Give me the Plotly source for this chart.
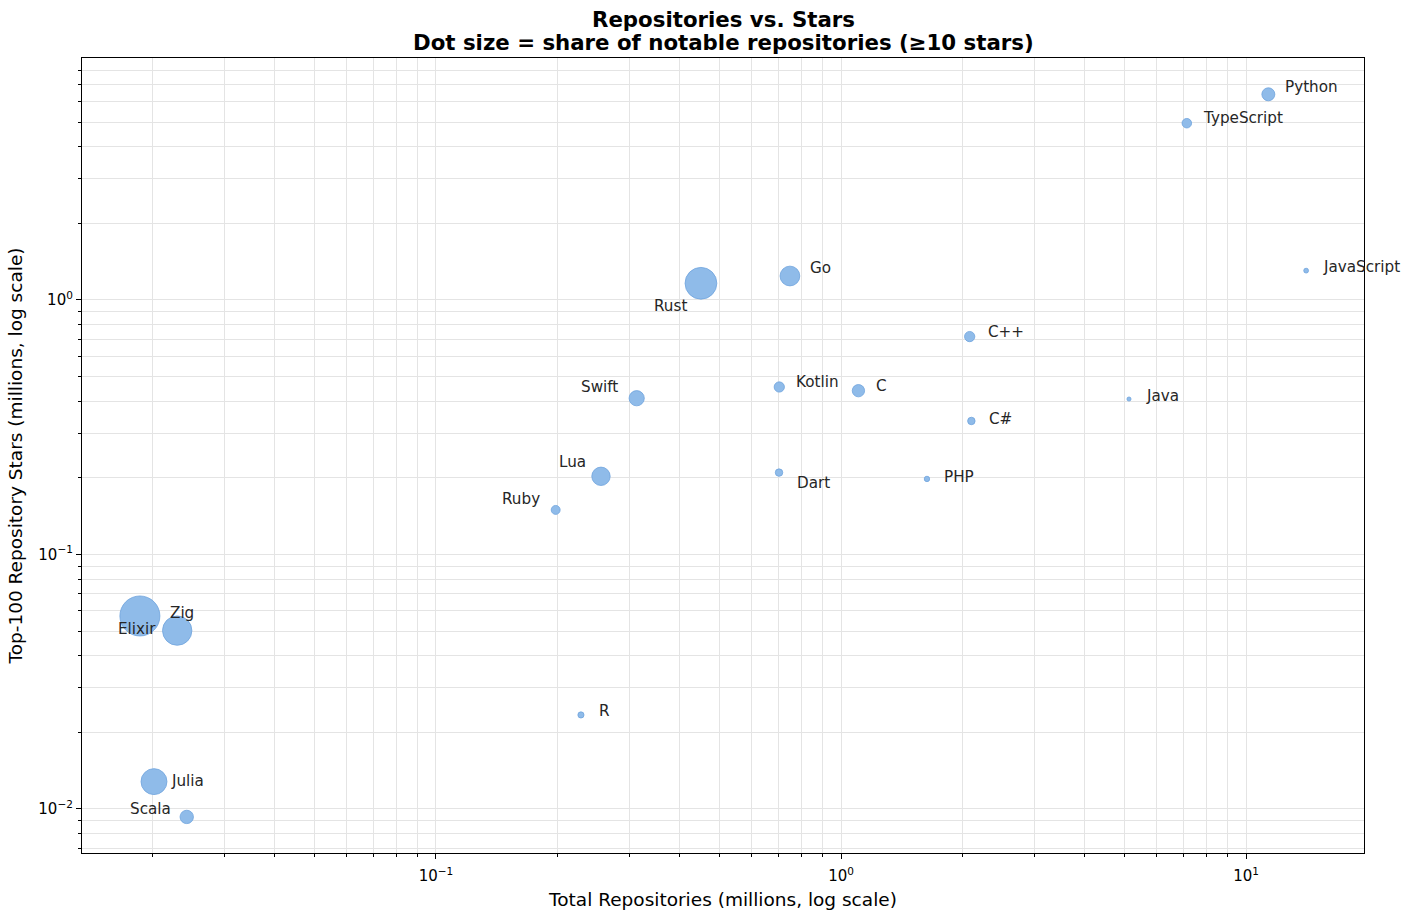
import numpy as np
import plotly.graph_objects as go

# language stats (millions)
languages = ["Python", "TypeScript", "JavaScript", "Go", "Rust", "C++", "Kotlin", "C",
             "Swift", "Java", "C#", "Lua", "Dart", "PHP", "Ruby", "Zig", "Elixir",
             "R", "Julia", "Scala"]
total_repos = [11.35, 7.14, 14.07, 0.748, 0.451, 2.078, 0.704, 1.104,
               0.313, 5.14, 2.098, 0.2555, 0.703, 1.630, 0.1975, 0.01858, 0.02297,
               0.228, 0.02013, 0.02425]
top100_stars = [6.43, 4.95, 1.304, 1.242, 1.163, 0.718, 0.455, 0.440,
                0.411, 0.408, 0.3346, 0.2028, 0.2097, 0.198, 0.1496, 0.0573, 0.0502,
                0.0234, 0.0128, 0.0093]
# share of notable repos (>=10 stars), percent
notable_share = [1.6, 0.86, 0.22, 3.7, 9.6, 1.0, 1.0, 1.44,
                 2.2, 0.16, 0.53, 3.2, 0.53, 0.28, 0.76, 15.2, 8.2,
                 0.36, 6.4, 1.7]

# label placement (dx, dy) in px, dy up
label_offsets = {
    "Python": (16, 7), "TypeScript": (15, 5), "JavaScript": (16, 4), "Go": (19, 8),
    "Rust": (-13, -23), "C++": (17, 5), "Kotlin": (16, 5), "C": (17, 5),
    "Swift": (-18, 11), "Java": (16, 3), "C#": (17, 2), "Lua": (-14, 14),
    "Dart": (17, -10), "PHP": (16, 2), "Ruby": (-15, 11), "Zig": (29, 3),
    "Elixir": (-20, 2), "R": (17, 4), "Julia": (16, 1), "Scala": (-15, 8),
}

FONT = "DejaVu Sans"
GRID = "#e4e4e4"

fig = go.Figure()
fig.add_trace(go.Scatter(
    x=total_repos, y=top100_stars, mode="markers", text=languages,
    marker=dict(size=notable_share, sizemode="area",
                sizeref=2 * max(notable_share) / 40 ** 2,
                color="#8fbbe9", opacity=1,
                line=dict(color="#6ea3dd", width=0.8)),
    hoverinfo="text", showlegend=False,
))

for name, xv, yv in zip(languages, total_repos, top100_stars):
    dx, dy = label_offsets[name]
    fig.add_annotation(
        x=np.log10(xv), y=np.log10(yv), text=name, showarrow=False,
        xanchor="left" if dx > 0 else "right", yanchor="middle",
        xshift=dx - (1 if dx > 0 else -1), yshift=dy,
        font=dict(family=FONT, size=15.2, color="#262626"),
    )

# figure title, two lines
fig.add_annotation(text="<b>Repositories vs. Stars</b>", xref="paper", yref="paper",
                   x=0.5, y=1 + 39 / 795, showarrow=False, yanchor="middle",
                   font=dict(family=FONT, size=21.3, color="black"))
fig.add_annotation(text="<b>Dot size = share of notable repositories (≥10 stars)</b>",
                   xref="paper", yref="paper", x=0.5, y=1 + 16 / 795,
                   showarrow=False, yanchor="middle",
                   font=dict(family=FONT, size=21.3, color="black"))


def minor_vals(lo, hi):
    return [m * 10.0 ** e for e in range(lo, hi) for m in range(2, 10)]


axis_common = dict(
    type="log", showline=True, linecolor="black", linewidth=1.2, mirror=True,
    ticks="outside", ticklen=5, tickwidth=1, tickcolor="black",
    showgrid=True, gridcolor=GRID, gridwidth=0.8, zeroline=False,
    tickfont=dict(family=FONT, size=15, color="black"),
)

fig.update_xaxes(
    **axis_common,
    range=[np.log10(0.01337), np.log10(19.55)],
    tickmode="array", tickvals=[0.1, 1, 10],
    ticktext=["10<sup>−1</sup>", "10<sup>0</sup>", "10<sup>1</sup>"],
    ticklabelstandoff=4,
    minor=dict(tickmode="array", tickvals=minor_vals(-2, 2), ticks="outside",
               ticklen=3, tickcolor="black", showgrid=True, gridcolor=GRID, gridwidth=0.8),
    title=dict(text="Total Repositories (millions, log scale)", standoff=8,
               font=dict(family=FONT, size=18.5, color="black")),
)
fig.update_yaxes(
    **axis_common,
    range=[np.log10(0.00671), np.log10(8.93)],
    tickmode="array", tickvals=[0.01, 0.1, 1],
    ticktext=["10<sup>−2</sup>", "10<sup>−1</sup>", "10<sup>0</sup>"],
    minor=dict(tickmode="array", tickvals=minor_vals(-3, 1), ticks="outside",
               ticklen=3, tickcolor="black", showgrid=True, gridcolor=GRID, gridwidth=0.8),
    title=dict(text="Top-100 Repository Stars (millions, log scale)", standoff=10,
               font=dict(family=FONT, size=18.5, color="black")),
)

fig.update_layout(
    width=1409, height=918,
    margin=dict(l=82, r=45, t=58, b=65, autoexpand=False),
    plot_bgcolor="white", paper_bgcolor="white",
    font=dict(family=FONT),
)

# page body has a default 8px margin; drop it so the figure sits at 0,0
fig.write_html("out.html", config={"displayModeBar": False},
               post_script="document.body.style.margin='0';document.body.style.overflow='hidden';")
